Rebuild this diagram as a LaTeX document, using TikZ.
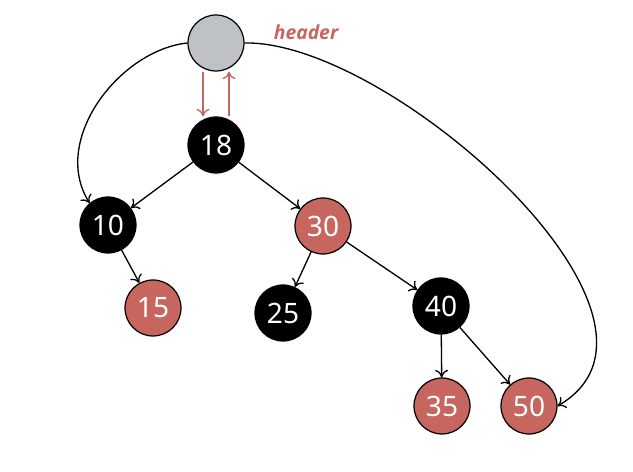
\documentclass[tikz,border=0pt]{standalone}
\usepackage{fontspec}
\setmainfont{Noto Sans}
\newfontfamily\hdfont{Open Sans}
\usetikzlibrary{arrows.meta}
\definecolor{rbred}{RGB}{198,102,94}
\definecolor{hdgray}{RGB}{190,193,198}
\begin{document}
\begin{tikzpicture}[x=0.02cm,y=-0.02cm,
    rbnode/.style={circle,draw,line width=0.7pt,minimum size=1.12cm,inner sep=0pt,
      text=white,font=\fontsize{16}{16}\selectfont},
    blk/.style={rbnode,fill=black},
    rd/.style={rbnode,fill=rbred},
    edge/.style={line width=0.75pt,-{To[length=1.5mm,width=2.6mm]}},
    link/.style={line width=0.75pt,rbred,-{To[length=1.5mm,width=2.6mm]}}]
  \useasboundingbox (0,0) rectangle (633,472);
  % header and tree
  \node[rbnode,fill=hdgray] (hd) at (216,43) {};
  \node[text=rbred,font=\hdfont\bfseries\itshape\fontsize{11}{11}\selectfont] (hdlabel) at (306,32) {header};
  \node[blk] (n18) at (216,145) {18};
  \node[blk] (n10) at (108,225) {10};
  \node[rd]  (n30) at (323,226) {30};
  \node[rd]  (n15) at (153,308) {15};
  \node[blk] (n25) at (283,313) {25};
  \node[blk] (n40) at (441,306) {40};
  \node[rd]  (n35) at (442,406) {35};
  \node[rd]  (n50) at (529,406) {50};
  % parent links of the header
  \draw[link] ([xshift=-0.26cm]hd.south) -- ([xshift=-0.26cm]n18.north);
  \draw[link] ([xshift=0.26cm]n18.north) -- ([xshift=0.26cm]hd.south);
  % leftmost and rightmost
  \draw[edge] (hd.west) .. controls (120,50) and (50,140) .. (n10.130);
  \draw[edge] (hd.east) .. controls (390,40) and (705,320) .. (n50.east);
  % children
  \draw[edge] (n18) -- (n10);
  \draw[edge] (n18) -- (n30);
  \draw[edge] (n10) -- (n15);
  \draw[edge] (n30) -- (n25);
  \draw[edge] (n30) -- (n40);
  \draw[edge] (n40) -- (n35);
  \draw[edge] (n40) -- (n50);
\end{tikzpicture}
\end{document}
